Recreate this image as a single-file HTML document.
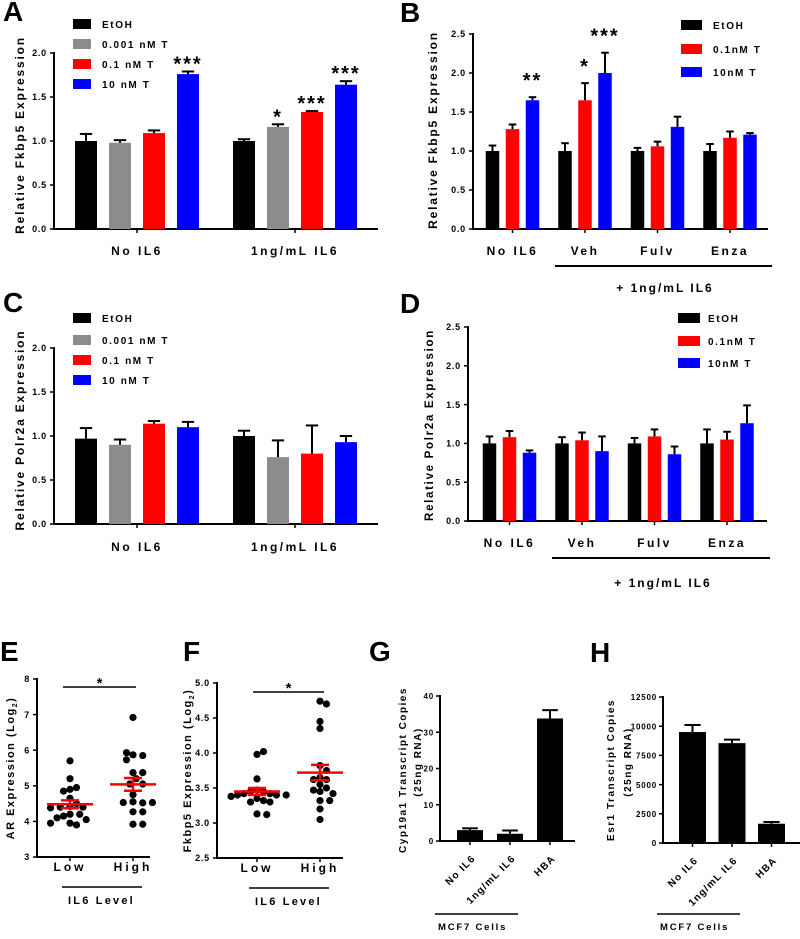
<!DOCTYPE html>
<html><head><meta charset="utf-8"><style>
html,body{margin:0;padding:0;background:#fff;}
svg text{font-family:"Liberation Sans",Arial,sans-serif;font-weight:bold;fill:#000;}
</style></head><body>
<svg id="fig" width="800" height="934" viewBox="0 0 800 934" xmlns="http://www.w3.org/2000/svg"></svg>
<script>
// ---------- DATA ----------
const aGroups = ["No IL6","1ng/mL IL6"];
const aSeries = ["EtOH","0.001 nM T","0.1 nM T","10 nM T"];
const aValues = [[1.0,0.98,1.09,1.76],[1.0,1.16,1.33,1.64]];
const aErrors = [[0.08,0.03,0.03,0.03],[0.02,0.03,0.01,0.04]];
const aStars = [["","","","***"],["","*","***","***"]];
const aTicks = ["0.0","0.5","1.0","1.5","2.0"];

const bGroups = ["No IL6","Veh","Fulv","Enza"];
const bSeries = ["EtOH","0.1nM T","10nM T"];
const bValues = [[1.0,1.28,1.65],[1.0,1.65,2.0],[1.0,1.06,1.31],[1.0,1.17,1.21]];
const bErrors = [[0.07,0.06,0.04],[0.1,0.22,0.26],[0.04,0.06,0.13],[0.09,0.08,0.02]];
const bStars = [["","","**"],["","*","***"],["","",""],["","",""]];
const bTicks = ["0.0","0.5","1.0","1.5","2.0","2.5"];

const cGroups = ["No IL6","1ng/mL IL6"];
const cSeries = ["EtOH","0.001 nM T","0.1 nM T","10 nM T"];
const cValues = [[0.97,0.9,1.14,1.1],[1.0,0.76,0.8,0.93]];
const cErrors = [[0.12,0.06,0.03,0.06],[0.06,0.19,0.32,0.07]];
const cTicks = ["0.0","0.5","1.0","1.5","2.0"];

const dGroups = ["No IL6","Veh","Fulv","Enza"];
const dSeries = ["EtOH","0.1nM T","10nM T"];
const dValues = [[1.0,1.08,0.88],[1.0,1.04,0.9],[1.0,1.09,0.86],[1.0,1.05,1.26]];
const dErrors = [[0.09,0.08,0.03],[0.08,0.1,0.19],[0.07,0.09,0.1],[0.18,0.1,0.23]];
const dTicks = ["0.0","0.5","1.0","1.5","2.0","2.5"];

const eLow = [5.7,5.2,4.9,4.95,4.85,4.65,4.5,4.42,4.4,4.4,4.38,4.2,4.2,4.15,4.1,4.05,3.95,3.9,3.95];
const eHigh = [6.92,5.87,5.85,5.93,5.73,5.37,5.37,5.2,5.05,5.05,4.75,4.55,4.52,4.53,4.53,4.27,4.27,3.92,3.92];
const eMean = [4.48,5.04];
const eSem = [0.11,0.18];
const eTicks = ["3","4","5","6","7","8"];

const fLow = [3.98,4.02,3.63,3.47,3.45,3.45,3.42,3.42,3.4,3.4,3.4,3.38,3.35,3.32,3.3,3.3,3.13,3.12];
const fHigh = [4.74,4.7,4.45,4.35,3.82,3.75,3.65,3.62,3.62,3.55,3.5,3.45,3.47,3.42,3.32,3.32,3.2,3.05];
const fMean = [3.45,3.72];
const fSem = [0.05,0.11];
const fTicks = ["2.5","3.0","3.5","4.0","4.5","5.0"];

const gCats = ["No IL6","1ng/mL IL6","HBA"];
const gValues = [3.0,2.0,33.8];
const gErrors = [0.5,0.9,2.3];
const gTicks = ["0","10","20","30","40"];

const hCats = ["No IL6","1ng/mL IL6","HBA"];
const hValues = [9500,8550,1650];
const hErrors = [600,300,150];
const hTicks = ["0","2500","5000","7500","10000","12500"];

const palette4 = ["#000000","#8c8c8c","#ff0000","#0000ff"];
const palette3 = ["#000000","#ff0000","#0000ff"];

// ---------- HELPERS ----------
const svg = document.getElementById('fig');
const NS = "http://www.w3.org/2000/svg";
function mk(tag, attrs, parent){
  const el = document.createElementNS(NS, tag);
  for (const k in attrs) el.setAttribute(k, attrs[k]);
  (parent||svg).appendChild(el);
  return el;
}
function txt(s, x, y, size, anchor, parent, extra){
  const t = mk('text', Object.assign({x:x, y:y, 'font-size':size, 'text-anchor':anchor||'start'}, extra||{}), parent);
  t.textContent = s;
  return t;
}
function linearY(vmin, vmax, pyBot, pyTop){ return v => pyBot - (v - vmin)/(vmax - vmin)*(pyBot - pyTop); }

function axes(g, ax, axEnd, yBot, yTop, ticks, scale, tickSize, tickGap){
  const a = mk('line',{x1:ax,y1:yTop-1,x2:ax,y2:yBot,stroke:'#000','stroke-width':2},g);
   
  const b = mk('line',{x1:ax-1,y1:yBot,x2:axEnd,y2:yBot,stroke:'#000','stroke-width':2},g);
   
  ticks.forEach(tk=>{
    const y = scale(parseFloat(tk));
    mk('line',{x1:ax-4,y1:y,x2:ax,y2:y,stroke:'#000','stroke-width':1.5},g);
    const t = txt(tk, ax-tickGap, y+3.2, tickSize, 'end', g, {'letter-spacing':0.8});
     
  });
}
function yTitle(g, s, x, y, size, ls){
  const t = txt(s, x, y, size, 'middle', g, {transform:`rotate(-90 ${x} ${y})`, 'letter-spacing':ls});
   
  return t;
}
function panelLetter(s, x, y){
  const t = txt(s, x, y, 28, 'start', svg, {'font-weight':'bold'});
   
}
function drawBars(g, groups, series, values, errors, stars, colors, scale, c0, cStep, bStep, bw, yBot, starGap, starSize){
  groups.forEach((gn, gi)=>{
    const gc = c0 + gi*cStep;
    mk('line',{x1:gc,y1:yBot,x2:gc,y2:yBot+4,stroke:'#000','stroke-width':1.5},g);
    values[gi].forEach((v, si)=>{
      const cx = gc + (si - (values[gi].length-1)/2)*bStep;
      const top = scale(v);
      const r = mk('rect',{x:cx-bw/2,y:top,width:bw,height:yBot-top,fill:colors[si]},g);
      
      
      const et = scale(v + errors[gi][si]);
      mk('line',{x1:cx,y1:top,x2:cx,y2:et,stroke:'#000','stroke-width':2},g);
      mk('line',{x1:cx-bw*0.28,y1:et,x2:cx+bw*0.28,y2:et,stroke:'#000','stroke-width':2},g);
      if (stars && stars[gi][si]){
        const s = txt(stars[gi][si], cx, et - starGap + 11, starSize, 'middle', g, {'letter-spacing':2});
         
      }
    });
  });
}
function catLabels(g, groups, c0, cStep, y){
  groups.forEach((gn, gi)=>{
    const t = txt(gn, c0+gi*cStep, y, 12, 'middle', g, {'letter-spacing':2.5});
     
  });
}
function legend(g, series, colors, sx, sw, rowYs, tx, size){
  series.forEach((s, i)=>{
    const r = mk('rect',{x:sx,y:rowYs[i]-5,width:sw,height:10,fill:colors[i]},g);
     
    const t = txt(s, tx, rowYs[i]+4, size, 'start', g, {'letter-spacing':1.6});
     
  });
}

// ---------- PANEL A ----------
(function(){
  const g = mk('g',{});  
  const sc = linearY(0,2,229,53);
  axes(g,54,378,229,53,aTicks,sc,9,7);
  drawBars(g,aGroups,aSeries,aValues,aErrors,aStars,palette4,sc,137,158,34,22,229,12,20);
  catLabels(g,aGroups,137,158,255);
  legend(g,aSeries,palette4,73,18,[24,44,64,84],102,10);
  yTitle(g,"Relative Fkbp5 Expression",24,135,12,1.8);
})();
panelLetter("A",3,21);

// ---------- PANEL B ----------
(function(){
  const g = mk('g',{});  
  const sc = linearY(0,2.5,229,34);
  axes(g,473,768,229,34,bTicks,sc,9,7);
  drawBars(g,bGroups,bSeries,bValues,bErrors,bStars,palette3,sc,512.5,72.5,20,13.5,229,21,20);
  catLabels(g,bGroups,512.5,72.5,255);
  const l = mk('line',{x1:555,y1:266,x2:772,y2:266,stroke:'#000','stroke-width':2},g);
   
  const t = txt("+ 1ng/mL IL6",665,292,12,'middle',g,{'letter-spacing':2});
   
  legend(g,bSeries,palette3,681,21,[25,49,72],713,10);
  yTitle(g,"Relative Fkbp5 Expression",437,130,12,1.8);
})();
panelLetter("B",400,22);

// ---------- PANEL C ----------
(function(){
  const g = mk('g',{});  
  const sc = linearY(0,2,524,348);
  axes(g,54,378,524,348,cTicks,sc,9,7);
  drawBars(g,cGroups,cSeries,cValues,cErrors,null,palette4,sc,137,158,34,22,524,12,20);
  catLabels(g,cGroups,137,158,551);
  legend(g,cSeries,palette4,73,18,[318,340,360,380],102,10);
  yTitle(g,"Relative Polr2a Expression",24,430,12,1.8);
})();
panelLetter("C",3,312);

// ---------- PANEL D ----------
(function(){
  const g = mk('g',{});  
  const sc = linearY(0,2.5,521,327);
  axes(g,468,767,521,327,dTicks,sc,9,7);
  drawBars(g,dGroups,dSeries,dValues,dErrors,null,palette3,sc,509.5,72.5,20,13.5,521,12,20);
  catLabels(g,dGroups,509.5,72.5,547);
  const l = mk('line',{x1:552,y1:558,x2:770,y2:558,stroke:'#000','stroke-width':2},g);
   
  const t = txt("+ 1ng/mL IL6",663,587,12,'middle',g,{'letter-spacing':2});
   
  legend(g,dSeries,palette3,678,22,[318,341,363],708,10);
  yTitle(g,"Relative Polr2a Expression",433,425,11.5,1.7);
})();
panelLetter("D",400,313);

// ---------- SCATTER PANELS ----------
function swarm(vals, cx, sc, r){
  const placed = [];
  const pts = [];
  vals.forEach(v=>{
    const y = sc(v);
    let chosen = 0;
    for (let k=0;k<20;k++){
      const cand = k===0?[0]:[k*r*0.9,-k*r*0.9];
      let ok=null;
      for (const dx of cand){
        if (placed.every(p=>Math.hypot(p[0]-dx,p[1]-y) >= 2*r-0.6)){ ok=dx; break; }
      }
      if (ok!==null){ chosen=ok; break; }
    }
    placed.push([chosen,y]);
    pts.push([cx+chosen,y]);
  });
  return pts;
}
function scatterPanel(name, ax, axEnd, yBot, yTop, vmin, vmax, ticks, lowVals, highVals, means, sems, xLow, xHigh, title, titleX, sigY, sigX1, sigX2){
  const g = mk('g',{});  
  const sc = linearY(vmin,vmax,yBot,yTop);
  axes(g,ax,axEnd,yBot,yTop,ticks,sc,9,7);
  [[lowVals,xLow,"low"],[highVals,xHigh,"high"]].forEach(([vals,cx,lab],i)=>{
    mk('line',{x1:cx,y1:yBot,x2:cx,y2:yBot+4,stroke:'#000','stroke-width':1.5},g);
    swarm(vals,cx,sc,3.6).forEach(p=>{
      const c = mk('circle',{cx:p[0],cy:p[1],r:3.6,fill:'#000'},g);
       
    });
    const my = sc(means[i]), hi = sc(means[i]+sems[i]), lo = sc(means[i]-sems[i]);
    const m = mk('line',{x1:cx-23,y1:my,x2:cx+23,y2:my,stroke:'#ff0000','stroke-width':2.5},g);
     
    mk('line',{x1:cx,y1:hi,x2:cx,y2:lo,stroke:'#ff0000','stroke-width':2.5},g);
    mk('line',{x1:cx-9,y1:hi,x2:cx+9,y2:hi,stroke:'#ff0000','stroke-width':2.5},g);
    mk('line',{x1:cx-9,y1:lo,x2:cx+9,y2:lo,stroke:'#ff0000','stroke-width':2.5},g);
  });
  const tl = txt("Low",xLow,yBot+14,12,'middle',g,{'letter-spacing':3});  
  const th = txt("High",xHigh,yBot+14,12,'middle',g,{'letter-spacing':3});  
  const bl = mk('line',{x1:xLow-8,y1:yBot+30,x2:xHigh+9,y2:yBot+30,stroke:'#000','stroke-width':1.5},g);
   
  const gl = txt("IL6 Level",(xLow+xHigh)/2,yBot+47,11,'middle',g,{'letter-spacing':2.2});
   
  const sl = mk('line',{x1:sigX1,y1:sigY,x2:sigX2,y2:sigY,stroke:'#000','stroke-width':1.5},g);
   
  const st = txt("*",(sigX1+sigX2)/2,sigY+1,15,'middle',g);  
  const yt = yTitle(g,"",titleX,(yBot+yTop)/2,11,1.5);
  const s1 = mk('tspan',{},yt); s1.textContent = title;
  const s2 = mk('tspan',{'font-size':7,dy:3},yt); s2.textContent = "2";
  const s3 = mk('tspan',{dy:-3},yt); s3.textContent = ")";
}
scatterPanel('panel-e-chart',37,150,857,679,3,8,eTicks,eLow,eHigh,eMean,eSem,70,133,"AR Expression (Log",14,687,63,136);
panelLetter("E",0,661);
scatterPanel('panel-f-chart',217,343,858,683,2.5,5,fTicks,fLow,fHigh,fMean,fSem,257,320,"Fkbp5 Expression (Log",191,692,253,324);
panelLetter("F",183,661);

// ---------- SIMPLE BAR PANELS ----------
function simpleBars(name, ax, axEnd, yBot, yTop, vmax, ticks, cats, vals, errs, c0, step, bw, t1, t1x, t2x, titleY, bx1, bx2){
  const g = mk('g',{});  
  const sc = linearY(0,vmax,yBot,yTop);
  axes(g,ax,axEnd,yBot,yTop,ticks,sc,8,6);
  cats.forEach((c,i)=>{
    const cx = c0 + i*step;
    const top = sc(vals[i]);
    const r = mk('rect',{x:cx-bw/2,y:top,width:bw,height:yBot-top,fill:'#000'},g);
     
    const et = sc(vals[i]+errs[i]);
    mk('line',{x1:cx,y1:top,x2:cx,y2:et,stroke:'#000','stroke-width':2},g);
    mk('line',{x1:cx-bw*0.3,y1:et,x2:cx+bw*0.3,y2:et,stroke:'#000','stroke-width':2},g);
    mk('line',{x1:cx,y1:yBot,x2:cx,y2:yBot+4,stroke:'#000','stroke-width':1.5},g);
    const lx = cx+6, ly = yBot+18;
    const t = txt(c,lx,ly,10,'end',g,{transform:`rotate(-45 ${lx} ${ly})`,'letter-spacing':1.2});
     
  });
  const bl = mk('line',{x1:bx1,y1:914,x2:bx2,y2:914,stroke:'#000','stroke-width':1.5},g);
   
  const ml = txt("MCF7 Cells",bx1+3,930,9.5,'start',g,{'letter-spacing':1.8});
   
  yTitle(g,t1,t1x,titleY,10,1.5);
  yTitle(g,"(25ng RNA)",t2x,titleY-8,10,1.5);
}
simpleBars('panel-g-chart',440,575,841,696,40,gTicks,gCats,gValues,gErrors,470,40,26,"Cyp19a1 Transcript Copies",406,421,770,435,518);
panelLetter("G",369,661);
simpleBars('panel-h-chart',663,800,843,697,12500,hTicks,hCats,hValues,hErrors,692.5,39.5,27,"Esr1 Transcript Copies",614,631,770,657,740);
panelLetter("H",590,662);
</script>
</body></html>
